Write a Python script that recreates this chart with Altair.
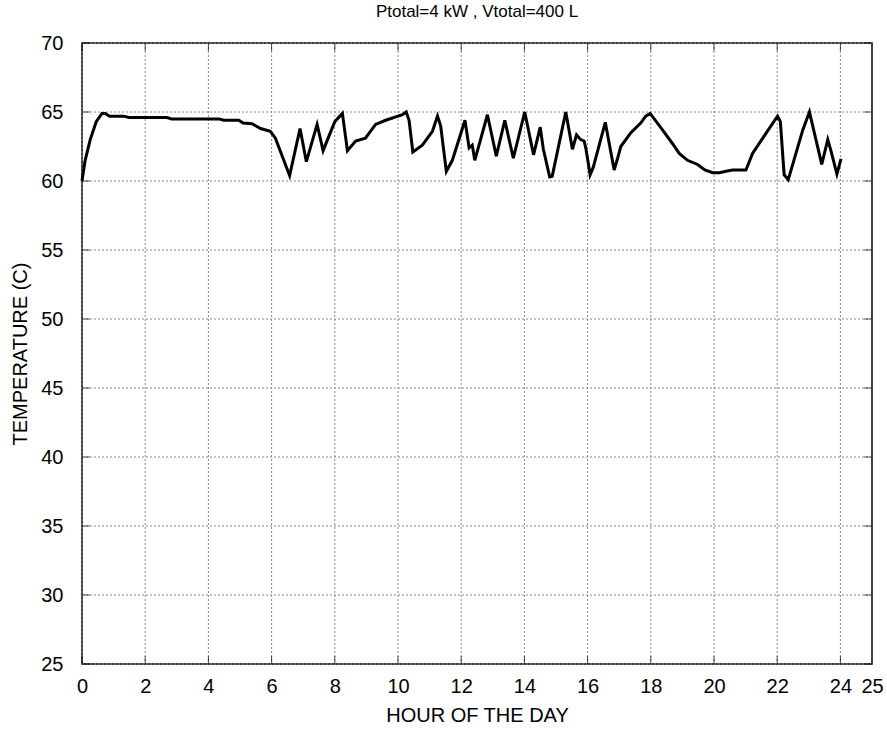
import altair as alt
import pandas as pd

# ---- data ----
hours = [0, 0.1, 0.26, 0.45, 0.63, 0.74, 0.87, 1.32, 1.48, 2.69, 2.83, 4.33, 4.49, 4.96,
         5.1, 5.38, 5.65, 5.96, 6.12, 6.57, 6.9, 7.1, 7.44, 7.63, 8.0, 8.24, 8.4, 8.66,
         8.97, 9.29, 9.61, 10.14, 10.26, 10.35, 10.47, 10.77, 11.09, 11.25, 11.35, 11.53,
         11.72, 12.12, 12.25, 12.35, 12.43, 12.83, 13.11, 13.38, 13.65, 14.01, 14.29, 14.5,
         14.6, 14.8, 14.88, 15.31, 15.52, 15.65, 15.78, 15.89, 15.95, 16.08, 16.18, 16.56,
         16.84, 16.95, 17.05, 17.37, 17.68, 17.84, 17.98, 18.37, 18.69, 18.9, 19.16, 19.48,
         19.71, 19.96, 20.17, 20.38, 20.59, 21.01, 21.22, 22.01, 22.1, 22.22, 22.35, 22.81,
         23.02, 23.41, 23.6, 23.7, 23.89, 24.02]
temps = [60.0, 61.5, 63.0, 64.3, 64.9, 64.9, 64.7, 64.7, 64.6, 64.6, 64.5, 64.5, 64.4, 64.4,
         64.2, 64.15, 63.8, 63.6, 63.1, 60.4, 63.8, 61.4, 64.1, 62.2, 64.3, 64.9, 62.2, 62.9,
         63.1, 64.1, 64.4, 64.8, 65.0, 64.4, 62.1, 62.6, 63.6, 64.7, 64.0, 60.7,
         61.5, 64.4, 62.4, 62.6, 61.5, 64.8, 61.8, 64.4, 61.65, 65.0, 61.9, 63.9,
         62.3, 60.3, 60.35, 65.0, 62.3, 63.35, 63.0, 62.9, 62.3, 60.45, 61.0, 64.25,
         60.8, 61.65, 62.5, 63.5, 64.2, 64.7, 64.9, 63.7, 62.7, 62.0, 61.5, 61.2,
         60.8, 60.6, 60.6, 60.7, 60.8, 60.8, 62.0, 64.7, 64.3, 60.45, 60.1, 63.7,
         65.0, 61.2, 63.0, 62.2, 60.5, 61.6]

x_label_values = [0, 2, 4, 6, 8, 10, 12, 14, 16, 18, 20, 22, 24, 25]
x_grid_values = [0, 2, 4, 6, 8, 10, 12, 14, 16, 18, 20, 22, 24]
y_values = [25, 30, 35, 40, 45, 50, 55, 60, 65, 70]

title_text = "Ptotal=4 kW , Vtotal=400 L"
x_title = "HOUR OF THE DAY"
y_title = "TEMPERATURE (C)"

df = pd.DataFrame({"hour": hours, "temp": temps})
xt = pd.DataFrame({"v": x_grid_values})
yt = pd.DataFrame({"v": y_values})

W, H = 790, 621
FONT = "Liberation Sans"
xscale = alt.Scale(domain=[0, 25], nice=False, zero=False)
yscale = alt.Scale(domain=[25, 70], nice=False, zero=False)

xaxis = alt.Axis(values=x_label_values, title=x_title, grid=False, ticks=False,
                 domain=False, labelPadding=12, titlePadding=9,
                 labelFlush=False, labelOverlap=False)
yaxis = alt.Axis(values=y_values, title=y_title, grid=False, ticks=False,
                 domain=False, labelPadding=19, titlePadding=10)

line = alt.Chart(df).mark_line(color="black", strokeWidth=3).encode(
    x=alt.X("hour:Q", scale=xscale, axis=xaxis),
    y=alt.Y("temp:Q", scale=yscale, axis=yaxis),
)

grid_x = alt.Chart(xt).mark_rule(color="#888888", strokeDash=[2, 2], strokeWidth=1).encode(
    x=alt.X("v:Q", scale=xscale, axis=xaxis)
)
grid_y = alt.Chart(yt).mark_rule(color="#888888", strokeDash=[2, 2], strokeWidth=1).encode(
    y=alt.Y("v:Q", scale=yscale, axis=yaxis)
)

tick_bottom = alt.Chart(xt).mark_tick(orient="vertical", size=8, thickness=1, color="black",
                                      yOffset=-4).encode(
    x=alt.X("v:Q", scale=xscale, axis=xaxis), y=alt.value(H))
tick_top = alt.Chart(xt).mark_tick(orient="vertical", size=8, thickness=1, color="black",
                                   yOffset=4).encode(
    x=alt.X("v:Q", scale=xscale, axis=xaxis), y=alt.value(0))
tick_left = alt.Chart(yt).mark_tick(orient="horizontal", size=8, thickness=1, color="black",
                                    xOffset=4).encode(
    y=alt.Y("v:Q", scale=yscale, axis=yaxis), x=alt.value(0))
tick_right = alt.Chart(yt).mark_tick(orient="horizontal", size=8, thickness=1, color="black",
                                     xOffset=-4).encode(
    y=alt.Y("v:Q", scale=yscale, axis=yaxis), x=alt.value(W))

chart = alt.layer(grid_x, grid_y, tick_bottom, tick_top, tick_left, tick_right, line).properties(
    width=W, height=H,
    title=alt.TitleParams(title_text, font=FONT, fontSize=17, fontWeight="normal",
                          color="black", anchor="middle", offset=12),
    autosize=alt.AutoSizeParams(type="none"),
    padding={"left": 82, "top": 43, "right": 15, "bottom": 67},
    background="white",
).configure_view(
    stroke="black", strokeWidth=1.5
).configure_axis(
    labelFont=FONT, labelFontSize=20, labelColor="black",
    titleFont=FONT, titleFontSize=20, titleFontWeight="normal", titleColor="black",
)

chart.save("out.html", embed_options={"renderer": "svg", "actions": False})
